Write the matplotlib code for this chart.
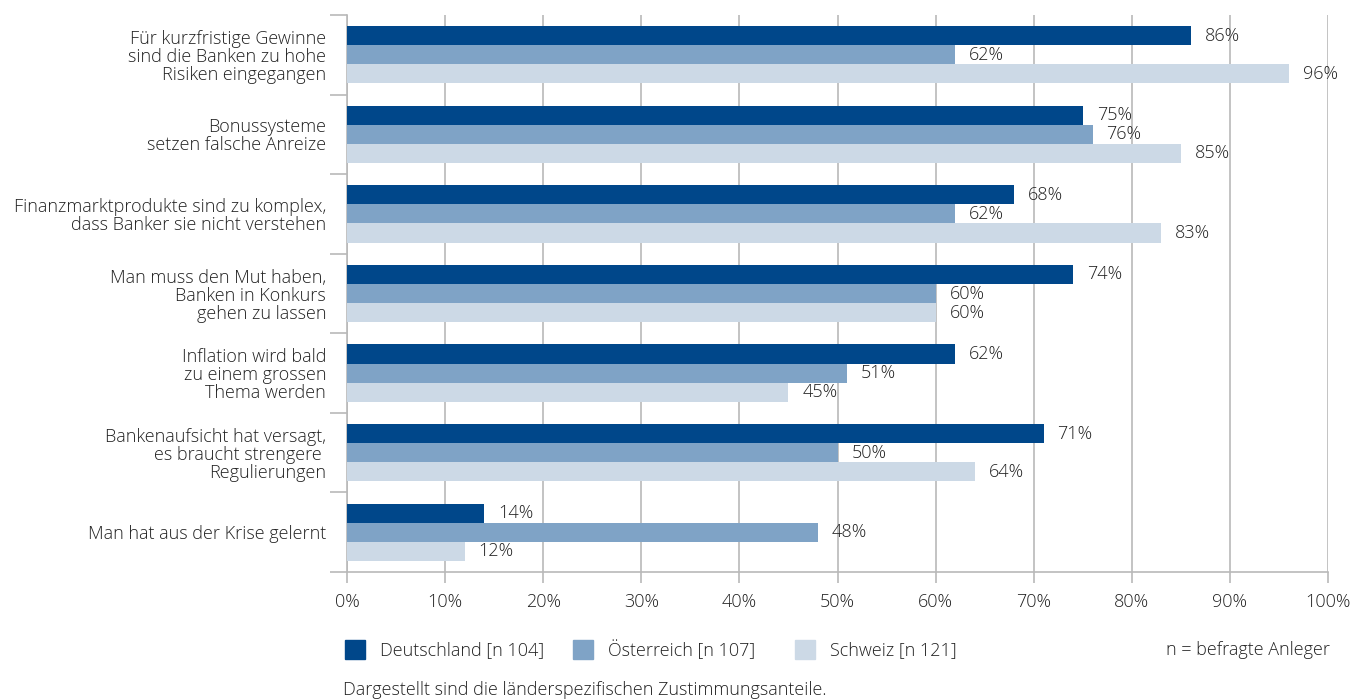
import numpy as np
from matplotlib import pyplot as plt
from matplotlib.patches import Rectangle
from matplotlib.ticker import FixedLocator, PercentFormatter

plt.rcParams['font.family'] = ['Open Sans', 'DejaVu Sans']
plt.rcParams['font.weight'] = 'light'
plt.rcParams['font.size'] = 13

categories = ['Für kurzfristige Gewinne\nsind die Banken zu hohe\nRisiken eingegangen',
              'Bonussysteme\nsetzen falsche Anreize',
              'Finanzmarktprodukte sind zu komplex,\ndass Banker sie nicht verstehen',
              'Man muss den Mut haben,\nBanken in Konkurs\ngehen zu lassen',
              'Inflation wird bald\nzu einem grossen\nThema werden',
              'Bankenaufsicht hat versagt,\nes braucht strengere \nRegulierungen',
              'Man hat aus der Krise gelernt']
deutschland = [86, 75, 68, 74, 62, 71, 14]
oesterreich = [62, 76, 62, 60, 51, 50, 48]
schweiz = [96, 85, 83, 60, 45, 64, 12]
series_names = ['Deutschland [n 104]', 'Österreich [n 107]', 'Schweiz [n 121]']
colors = ['#00478a', '#7fa3c6', '#ccd9e6']

W, H = 1367, 699
fig = plt.figure(figsize=(W / 100, H / 100), dpi=100)
ax = fig.add_axes([347 / W, 127 / H, 981 / W, 557 / H])

grid_c = '#b9b9b9'
txt_c = '#222222'
fs = 13
y = np.arange(len(categories))
bh = 0.24
for k, (vals, c) in enumerate(zip([deutschland, oesterreich, schweiz], colors)):
    pos = y + (k - 1) * bh
    ax.barh(pos, vals, height=bh, color=c, zorder=3)
    for p, v in zip(pos, vals):
        ax.annotate(f'{v}%', (v, p), xytext=(10, 0), textcoords='offset points',
                    va='center', ha='left', color=txt_c, fontsize=fs)

ax.set_xlim(0, 100)
ax.set_ylim(len(categories) - 0.5, -0.5)
ax.set_xticks(np.arange(0, 101, 10))
ax.xaxis.set_major_formatter(PercentFormatter(decimals=0))
ax.xaxis.grid(True, color=grid_c, lw=1.2, zorder=0)
ax.set_yticks(y)
ax.set_yticklabels(categories, ha='right', linespacing=1.0)
ax.yaxis.set_minor_locator(FixedLocator(np.arange(-0.5, len(categories), 1)))
ax.tick_params(axis='y', which='major', length=0, pad=15, colors=txt_c, labelsize=fs)
ax.tick_params(axis='y', which='minor', length=12, width=1.2, color=grid_c)
ax.tick_params(axis='x', length=8, width=1.2, color=grid_c, labelcolor=txt_c, pad=7, labelsize=fs)
for s in ['top', 'right']:
    ax.spines[s].set_visible(False)
for s in ['left', 'bottom']:
    ax.spines[s].set_color(grid_c)
    ax.spines[s].set_linewidth(1.2)

# legend
leg_x = [345, 573, 795]
for lx, name, c in zip(leg_x, series_names, colors):
    fig.add_artist(Rectangle((lx / W, 1 - 659 / H), 20 / W, 19 / H, color=c,
                             transform=fig.transFigure))
    fig.text((lx + 35) / W, 1 - 650 / H, name, va='center', ha='left', color=txt_c, fontsize=fs)
fig.text(1330 / W, 1 - 650 / H, 'n = befragte Anleger', va='center', ha='right', color=txt_c, fontsize=fs)
fig.text(343 / W, 1 - 690 / H, 'Dargestellt sind die länderspezifischen Zustimmungsanteile.',
         va='center', ha='left', color=txt_c, fontsize=fs)

fig.savefig('out.png', dpi=100)
